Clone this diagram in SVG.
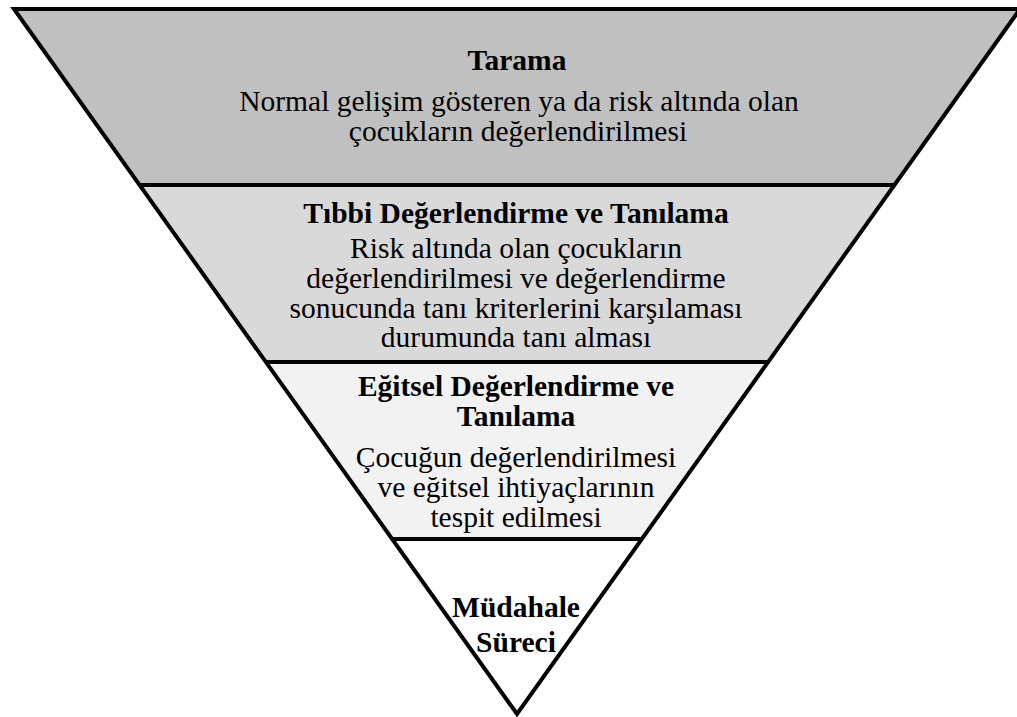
<svg xmlns="http://www.w3.org/2000/svg" width="1017" height="717" viewBox="0 0 1017 717">
  <style>
    .band { stroke: none; }
    .sep { stroke: #000; stroke-width: 4; fill: none; }
    .outline { stroke: #000; stroke-width: 4; fill: none; stroke-linejoin: miter; stroke-miterlimit: 10; }
    text { font-family: "Liberation Serif", "Times New Roman", serif; font-size: 29.5px; fill: #000; text-anchor: middle; }
    .title { font-weight: bold; }
  </style>
  <rect width="1017" height="717" fill="#ffffff"/>

  <!-- Level 1: screening -->
  <g id="tarama">
    <polygon class="band" fill="#c0c0c0" points="14,9 1020,9 894.4,185 139.6,185"/>
    <text class="title" x="517" y="70">Tarama</text>
    <text x="519" y="111">Normal gelişim gösteren ya da risk altında olan</text>
    <text x="518" y="141">çocukların değerlendirilmesi</text>
  </g>

  <!-- Level 2: medical assessment -->
  <g id="tibbi-degerlendirme">
    <polygon class="band" fill="#d9d9d9" points="139.6,185 894.4,185 768.1,362 265.9,362"/>
    <text class="title" x="516" y="223">Tıbbi Değerlendirme ve Tanılama</text>
    <text x="516" y="258">Risk altında olan çocukların</text>
    <text x="516" y="288">değerlendirilmesi ve değerlendirme</text>
    <text x="516" y="318">sonucunda tanı kriterlerini karşılaması</text>
    <text x="516" y="347">durumunda tanı alması</text>
  </g>

  <!-- Level 3: educational assessment -->
  <g id="egitsel-degerlendirme">
    <polygon class="band" fill="#f2f2f2" points="265.9,362 768.1,362 641.9,539 392.1,539"/>
    <text class="title" x="516" y="396">Eğitsel Değerlendirme ve</text>
    <text class="title" x="516" y="426">Tanılama</text>
    <text x="516" y="467">Çocuğun değerlendirilmesi</text>
    <text x="516" y="497">ve eğitsel ihtiyaçlarının</text>
    <text x="516" y="527">tespit edilmesi</text>
  </g>

  <!-- Level 4: intervention -->
  <g id="mudahale-sureci">
    <polygon class="band" fill="#ffffff" points="392.1,539 641.9,539 517,714"/>
    <text class="title" x="516" y="617">Müdahale</text>
    <text class="title" x="516" y="652">Süreci</text>
  </g>

  <!-- Level dividers and outer triangle -->
  <g id="frame">
    <line class="sep" x1="139.6" y1="185" x2="894.4" y2="185"/>
    <line class="sep" x1="265.9" y1="362" x2="768.1" y2="362"/>
    <line class="sep" x1="392.1" y1="539" x2="641.9" y2="539"/>
    <polygon class="outline" points="14,9 1020,9 517,714"/>
  </g>
</svg>
